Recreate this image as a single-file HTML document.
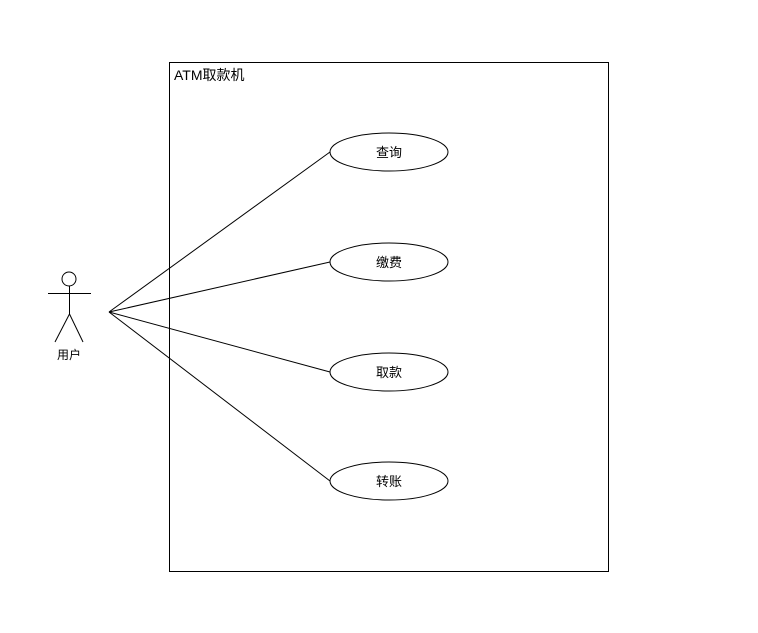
<!DOCTYPE html>
<html><head><style>body{margin:0;background:#fff}</style></head><body>
<svg width="758" height="633" xmlns="http://www.w3.org/2000/svg" style="display:block">
<rect width="758" height="633" fill="#fff"/>
<g stroke="#000" stroke-width="1" fill="none">
<rect x="169.5" y="62.5" width="439" height="509"/>
<circle cx="69" cy="279" r="7"/>
<line x1="48" y1="293.5" x2="91" y2="293.5"/>
<line x1="69.5" y1="286" x2="69.5" y2="314"/>
<line x1="69.5" y1="314" x2="55" y2="342"/>
<line x1="69.5" y1="314" x2="83" y2="342"/>
<line x1="109" y1="312" x2="330" y2="152"/>
<line x1="109" y1="312" x2="330" y2="262"/>
<line x1="109" y1="312" x2="330" y2="372"/>
<line x1="109" y1="312" x2="330" y2="481"/>
<ellipse cx="389" cy="152" rx="59" ry="19" fill="#fff"/>
<ellipse cx="389" cy="262" rx="59" ry="19" fill="#fff"/>
<ellipse cx="389" cy="372" rx="59" ry="19" fill="#fff"/>
<ellipse cx="389" cy="481" rx="59" ry="19" fill="#fff"/>
</g>
<g font-family="Liberation Sans, Noto Sans CJK SC, sans-serif" font-size="13" fill="#000">
<text x="174" y="80" font-size="14">ATM取款机</text>
<text x="69" y="359" text-anchor="middle" font-size="12">用户</text>
<text x="389" y="157" text-anchor="middle">查询</text>
<text x="389" y="267" text-anchor="middle">缴费</text>
<text x="389" y="377" text-anchor="middle">取款</text>
<text x="389" y="486" text-anchor="middle">转账</text>
</g>
</svg>
</body></html>
